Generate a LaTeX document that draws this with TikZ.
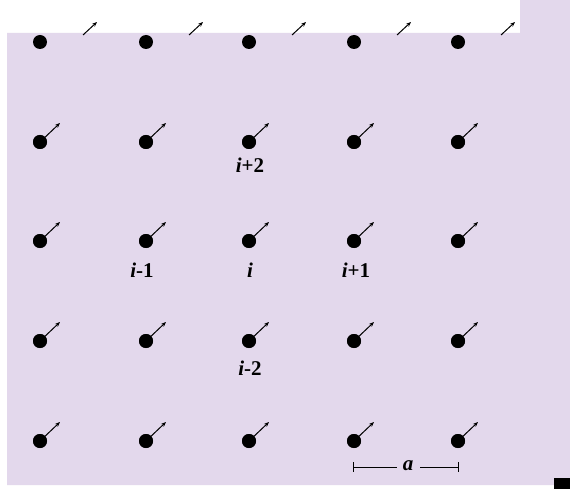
\documentclass[tikz,border=0pt]{standalone}
\usepackage{fontspec}
\setmainfont{Liberation Serif}
\usetikzlibrary{arrows.meta}
\definecolor{lav}{RGB}{227,216,236}
\begin{document}
\begin{tikzpicture}[x=1pt,y=-1pt,
  atom/.style={circle,fill=black,inner sep=0pt,minimum size=14pt},
  spinarrow/.style={line width=1pt,-{Stealth[length=5pt,width=4pt]}},
  lbl/.style={font=\fontsize{21}{23}\selectfont\bfseries,inner sep=0pt}]
\useasboundingbox (0,0) rectangle (570,489);
\fill[white] (0,0) rectangle (570,489);
\fill[lav] (7,33) -- (520,33) -- (520,0) -- (570,0) -- (570,485) -- (7,485) -- cycle;
\fill[black] (554,478) rectangle (570,489);
% top strip arrows (shifted)
\foreach \c/\x in {1/40,2/146,3/249,4/354,5/458}{
  \coordinate (tb\c) at (\x+43,35);
  \coordinate (tt\c) at (\x+57,22);
  \draw[spinarrow] (tb\c) -- (tt\c);
}
% top row dots
\foreach \c/\x in {1/40,2/146,3/249,4/354,5/458}{
  \node[atom] (d1\c) at (\x,42) {};
}
% other rows
\foreach \r/\y in {2/142,3/241,4/341,5/441}{
  \foreach \c/\x in {1/40,2/146,3/249,4/354,5/458}{
    \node[atom] (d\r\c) at (\x,\y) {};
    \coordinate (s\r\c) at (\x+20,\y-19);
    \draw[spinarrow] (d\r\c.center) -- (s\r\c);
    \fill (d\r\c) circle (7pt);
  }
}
% labels
\node[lbl] (l1) at (250,165) {\textit{i}+2};
\node[lbl] (l2) at (142,270) {\textit{i}-1};
\node[lbl] (l3) at (250,270) {\textit{i}};
\node[lbl] (l4) at (356,270) {\textit{i}+1};
\node[lbl] (l5) at (250,368) {\textit{i}-2};
% scale bar
\coordinate (sa) at (353,467);
\coordinate (sb) at (458,467);
\node[lbl,font=\fontsize{21}{23}\selectfont\bfseries\itshape] (la) at (408,466) {a};
\draw[line width=0.8pt] (sa) -- (397,467);
\draw[line width=0.8pt] (420,467) -- (sb);
\draw[line width=0.8pt] (353,462) -- (353,472);
\draw[line width=0.8pt] (458,462) -- (458,472);
\end{tikzpicture}
\end{document}
